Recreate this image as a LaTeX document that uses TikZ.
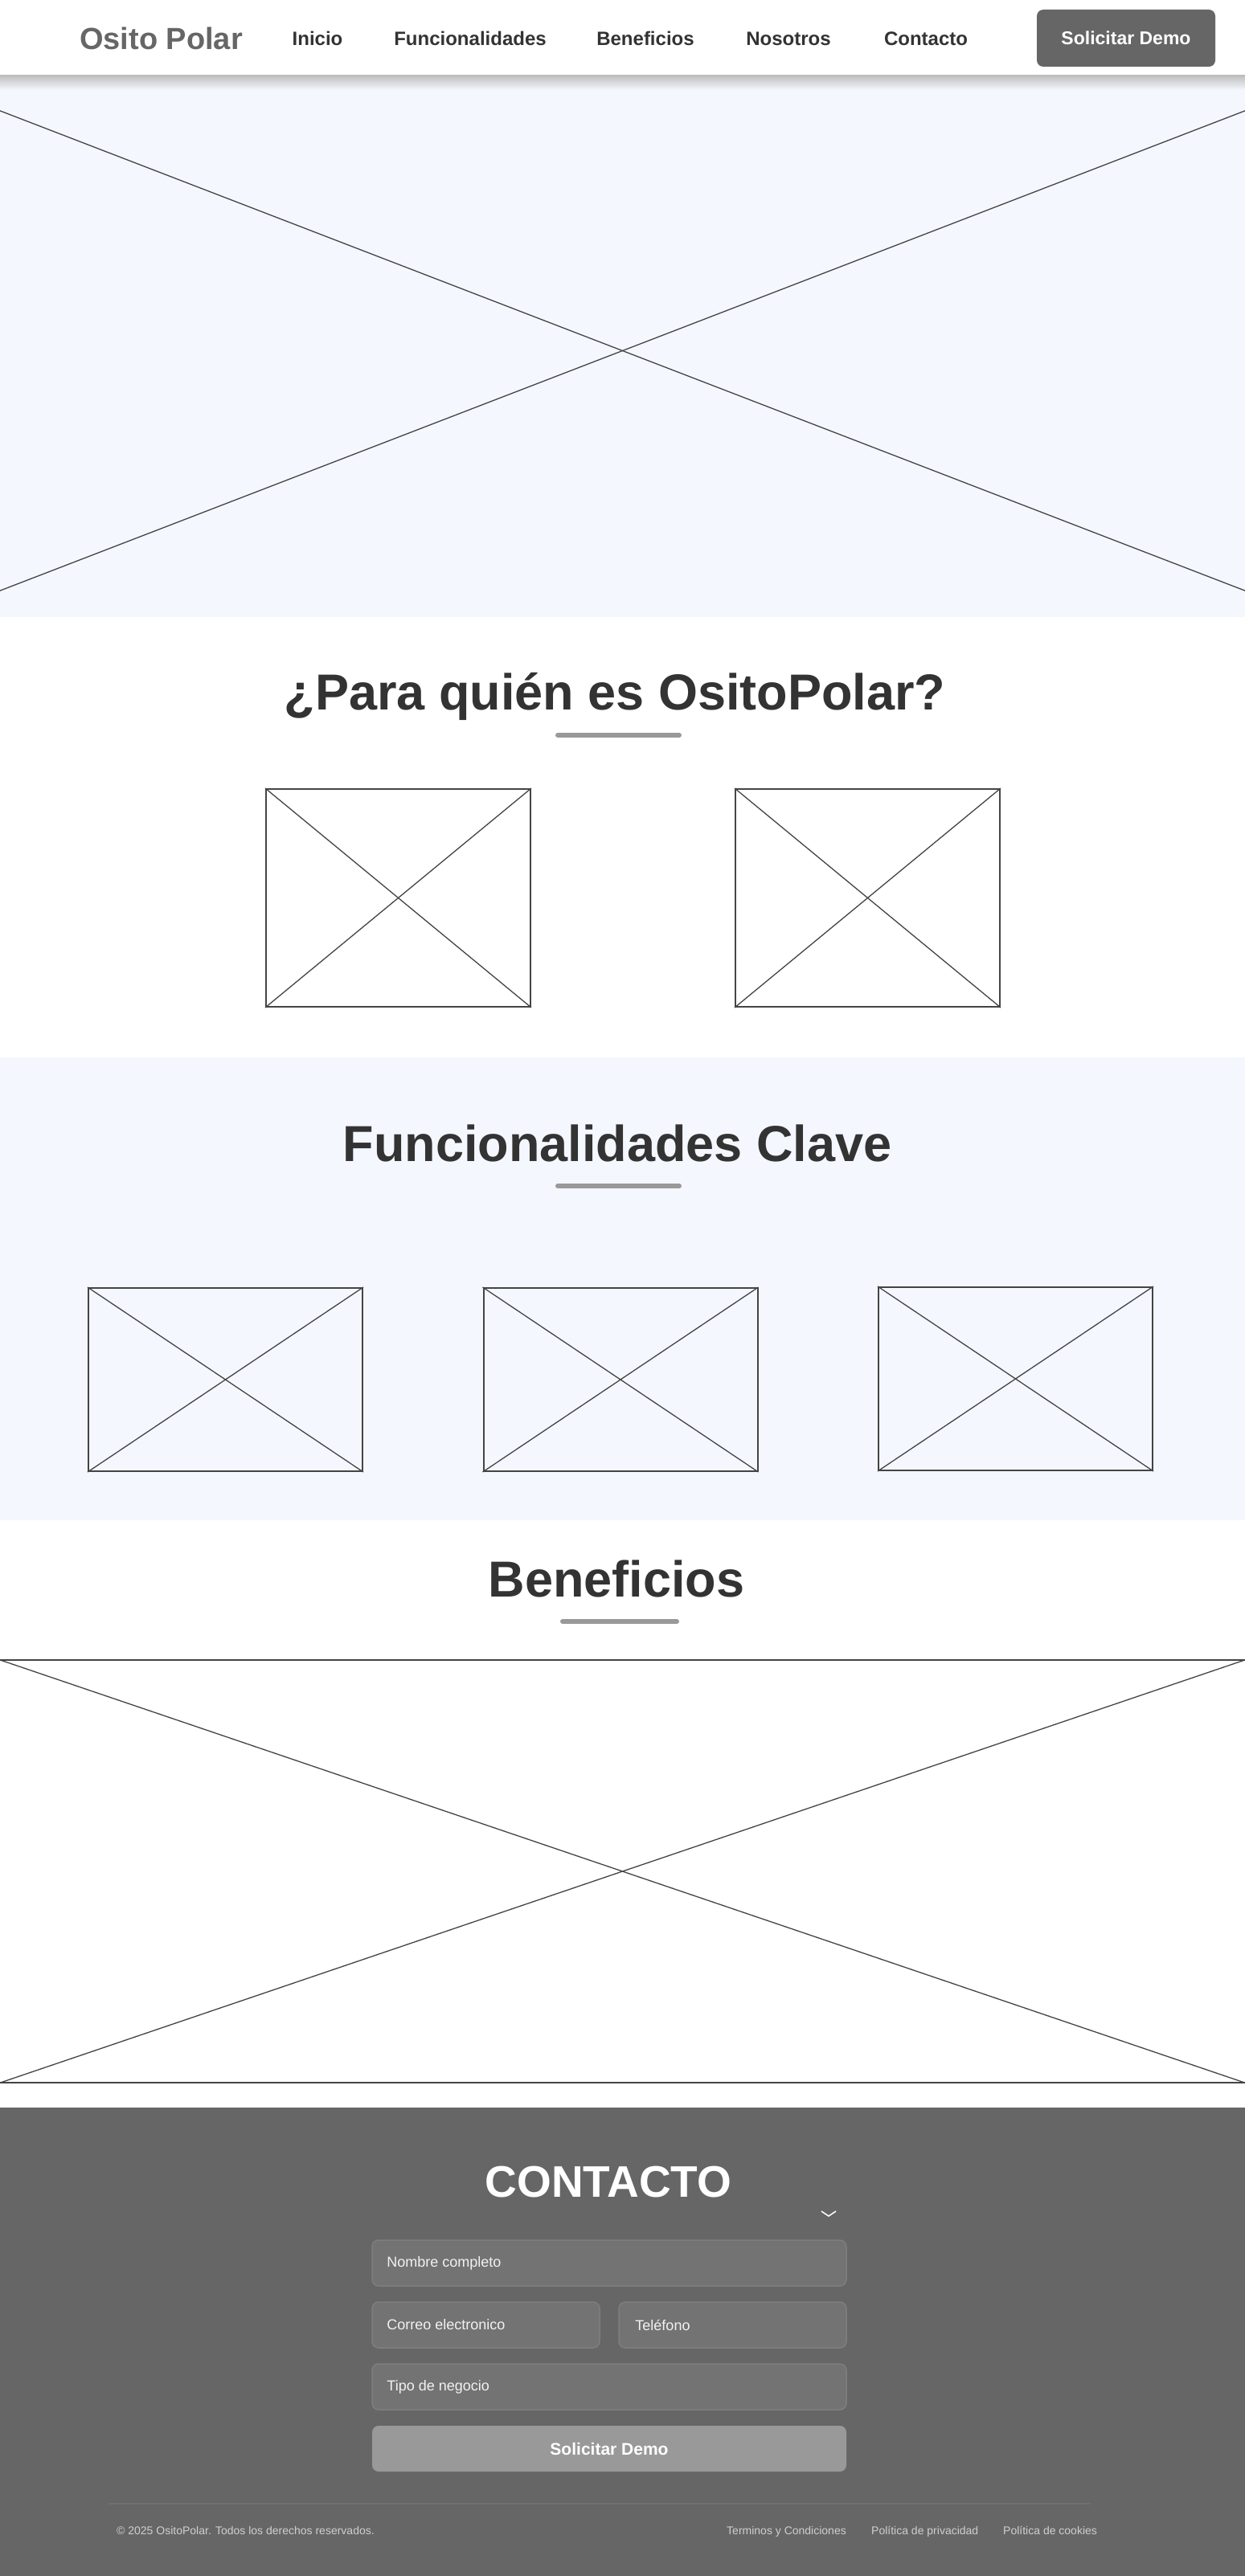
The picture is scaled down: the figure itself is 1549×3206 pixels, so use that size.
\documentclass[tikz,border=0pt]{standalone}
\usepackage{fontspec}
\setmainfont{Liberation Sans}
\usetikzlibrary{positioning}

\definecolor{osbg}{HTML}{F4F7FD}
\definecolor{ospanel}{HTML}{666666}
\definecolor{osink}{HTML}{333333}
\definecolor{osline}{HTML}{444444}
\definecolor{osbar}{HTML}{999999}
\definecolor{osfield}{HTML}{737373}
\definecolor{osfieldline}{HTML}{7E7E7E}
\definecolor{osfoot}{HTML}{CFCFCF}

\tikzset{
    navlink/.style={anchor=base, text=osink, font=\bfseries\fontsize{24}{29}\selectfont},
    sectitle/.style={anchor=base, text=osink, font=\bfseries\fontsize{63}{70}\selectfont},
    titlebar/.style={draw=osbar, line width=6pt, line cap=round},
    imgbox/.style={draw=osline, line width=2pt, inner sep=0pt},
    imgcross/.style={draw=osline, line width=1.3pt},
    formfield/.style={draw=osfieldline, fill=osfield, rounded corners=8pt, line width=1.5pt, inner sep=0pt},
    fieldtext/.style={text=white!90!gray, font=\fontsize{18}{22}\selectfont, inner sep=0pt},
    foottext/.style={anchor=base west, text=osfoot, font=\fontsize{14}{17}\selectfont, inner sep=0pt},
}

\begin{document}
\begin{tikzpicture}[x=1pt, y=-1pt]
    \useasboundingbox (0,0) rectangle (1549,3206);
    % Backgrounds
    \fill[white] (0,0) rectangle (1549,3206);
    \fill[osbg] (0,94) rectangle (1549,768);
    \shade[top color=gray!50, bottom color=osbg] (0,94) rectangle (1549,112);
    \fill[osbg] (0,1316) rectangle (1549,1892);
    \fill[ospanel] (0,2623) rectangle (1549,3206);

    % Header
    \node[anchor=base west, inner sep=0pt, text=ospanel, font=\bfseries\fontsize{38}{43}\selectfont] (logo) at (99,62) {Osito Polar};
    \node[navlink] (inicio) at (395,57) {Inicio};
    \node[navlink] (funcs) at (585,57) {Funcionalidades};
    \node[navlink] (benef) at (803,57) {Beneficios};
    \node[navlink] (nosotros) at (981,57) {Nosotros};
    \node[navlink] (contacto) at (1152,57) {Contacto};
    \node[fill=ospanel, rounded corners=8pt, minimum width=222pt, minimum height=71pt, text=white, font=\bfseries\fontsize{23}{28}\selectfont] (demo) at (1401,47.5) {Solicitar Demo};

    % Hero
    \node[minimum width=1549pt, minimum height=597pt, inner sep=0pt] (hero) at (774.5,436.5) {};
    \draw[imgcross] (hero.north west) -- (hero.south east);
    \draw[imgcross] (hero.south west) -- (hero.north east);

    % Para quien
    \node[sectitle] (quien) at (765,883) {¿Para quién es OsitoPolar?};
    \draw[titlebar] (694,915) -- (845,915);
    \node[imgbox, minimum width=329pt, minimum height=271pt] (cliente1) at (495.5,1117.5) {};
    \draw[imgcross] (cliente1.north west) -- (cliente1.south east);
    \draw[imgcross] (cliente1.south west) -- (cliente1.north east);
    \node[imgbox, minimum width=329pt, minimum height=271pt] (cliente2) at (1079.5,1117.5) {};
    \draw[imgcross] (cliente2.north west) -- (cliente2.south east);
    \draw[imgcross] (cliente2.south west) -- (cliente2.north east);

    % Funcionalidades
    \node[sectitle] (clave) at (768,1445) {Funcionalidades Clave};
    \draw[titlebar] (694,1476) -- (845,1476);
    \node[imgbox, minimum width=341pt, minimum height=228pt] (func1) at (280.5,1717) {};
    \draw[imgcross] (func1.north west) -- (func1.south east);
    \draw[imgcross] (func1.south west) -- (func1.north east);
    \node[imgbox, minimum width=341pt, minimum height=228pt] (func2) at (772,1717) {};
    \draw[imgcross] (func2.north west) -- (func2.south east);
    \draw[imgcross] (func2.south west) -- (func2.north east);
    \node[imgbox, minimum width=341pt, minimum height=228pt] (func3) at (1263.5,1716) {};
    \draw[imgcross] (func3.north west) -- (func3.south east);
    \draw[imgcross] (func3.south west) -- (func3.north east);

    % Beneficios
    \node[sectitle] (beneficios) at (767,1987) {Beneficios};
    \draw[titlebar] (700,2018) -- (842,2018);
    \node[minimum width=1549pt, minimum height=526pt, inner sep=0pt] (banner) at (774.5,2329) {};
    \draw[osline, line width=2pt] (banner.north west) -- (banner.north east);
    \draw[osline, line width=2pt] (banner.south west) -- (banner.south east);
    \draw[imgcross] (banner.north west) -- (banner.south east);
    \draw[imgcross] (banner.south west) -- (banner.north east);

    % Contacto
    \node[anchor=base, text=white, font=\bfseries\fontsize{55}{60}\selectfont] (contact) at (757,2734) {CONTACTO};
    \draw[white, line width=1.5pt] (1022,2752) -- (1031,2758) -- (1040,2752);
    \node[formfield, minimum width=590pt, minimum height=57pt] (nombre) at (758,2816.5) {};
    \node[fieldtext, right=19pt of nombre.west] {Nombre completo};
    \node[formfield, minimum width=283pt, minimum height=57pt] (correo) at (604.5,2893.5) {};
    \node[fieldtext, right=19pt of correo.west] {Correo electronico};
    \node[formfield, minimum width=283pt, minimum height=57pt] (telefono) at (911.5,2893.5) {};
    \node[fieldtext, right=21pt of telefono.west] {Teléfono};
    \node[formfield, minimum width=590pt, minimum height=57pt] (negocio) at (758,2970.5) {};
    \node[fieldtext, right=19pt of negocio.west] {Tipo de negocio};
    \node[fill=osbar, rounded corners=8pt, minimum width=590pt, minimum height=57pt, text=white, font=\bfseries\fontsize{21}{25}\selectfont] (enviar) at (758,3047.5) {Solicitar Demo};

    % Footer
    \draw[osfield!80!ospanel, line width=1.5pt] (135,3116) -- (1357,3116);
    \node[foottext] (copy) at (145,3154) {© 2025 OsitoPolar. Todos los derechos reservados.};
    \node[foottext] (terminos) at (904,3154) {Terminos y Condiciones};
    \node[foottext] (privacidad) at (1084,3154) {Política de privacidad};
    \node[foottext] (cookies) at (1248,3154) {Política de cookies};
\end{tikzpicture}
\end{document}
